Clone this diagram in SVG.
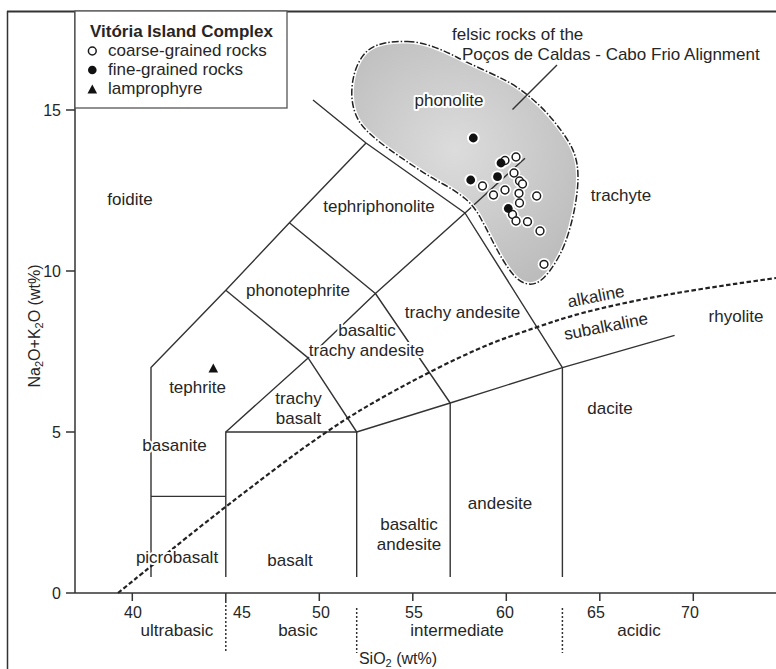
<svg xmlns="http://www.w3.org/2000/svg" width="776" height="669" viewBox="0 0 776 669">
<defs>
<radialGradient id="blobGrad" cx="455" cy="150" r="150" gradientUnits="userSpaceOnUse">
<stop offset="0" stop-color="#dcdcdc"/>
<stop offset="1" stop-color="#bcbcbc"/>
</radialGradient>
<style>
.ln{fill:none;stroke:#333;stroke-width:1.4;stroke-linejoin:round;stroke-linecap:butt}
.ax{fill:none;stroke:#333;stroke-width:1.5}
.lb{font-family:"Liberation Sans",Arial,Helvetica,sans-serif;font-size:17px;fill:#262626;text-anchor:middle;paint-order:stroke;stroke:#fff;stroke-width:4px;stroke-linejoin:round}
.tk{font-family:"Liberation Sans",Arial,Helvetica,sans-serif;font-size:16px;fill:#262626;text-anchor:middle}
.lg{font-family:"Liberation Sans",Arial,Helvetica,sans-serif;font-size:17px;fill:#262626}
.op{fill:#fff;stroke:#1a1a1a;stroke-width:1.5}
.fl{fill:#111}
.halo{fill:#fff}
.sep{stroke:#333;stroke-width:1.5;stroke-dasharray:2 2;fill:none}
</style>
</defs>
<rect x="0" y="0" width="776" height="669" fill="#fff"/>

<g id="frame">
<line class="ax" x1="7.5" y1="11" x2="7.5" y2="669"/>
<line x1="7" y1="11.5" x2="776" y2="11.5" stroke="#333" stroke-width="2.2"/>
<line class="ax" x1="75" y1="11" x2="75" y2="593"/>
<line class="ax" x1="75" y1="593" x2="776" y2="593"/>
</g>

<g id="y-axis">
<g class="ax">
<line x1="66" y1="593" x2="75" y2="593"/>
<line x1="66" y1="432" x2="75" y2="432"/>
<line x1="66" y1="271" x2="75" y2="271"/>
<line x1="66" y1="110" x2="75" y2="110"/>
</g>
<g class="tk" style="text-anchor:end">
<text x="61" y="598.5">0</text>
<text x="61" y="437.5">5</text>
<text x="61" y="276.5">10</text>
<text x="61" y="115.5">15</text>
</g>
<text class="tk" transform="translate(40,326) rotate(-90)">Na<tspan font-size="11" dy="3">2</tspan><tspan dy="-3">O+K</tspan><tspan font-size="11" dy="3">2</tspan><tspan dy="-3">O (wt%)</tspan></text>
</g>

<g id="x-axis">
<g class="ax">
<line x1="132.3" y1="593" x2="132.3" y2="601"/>
<line x1="225.8" y1="593" x2="225.8" y2="601"/>
<line x1="319.3" y1="593" x2="319.3" y2="601"/>
<line x1="412.8" y1="593" x2="412.8" y2="601"/>
<line x1="506.3" y1="593" x2="506.3" y2="601"/>
<line x1="599.8" y1="593" x2="599.8" y2="601"/>
<line x1="693.3" y1="593" x2="693.3" y2="601"/>
</g>
<g class="tk">
<text x="133" y="618">40</text>
<text x="242" y="618">45</text>
<text x="321" y="618">50</text>
<text x="414" y="618">55</text>
<text x="505" y="618">60</text>
<text x="596" y="618">65</text>
<text x="690" y="618">70</text>
</g>
<line class="sep" x1="225.8" y1="601" x2="225.8" y2="653"/>
<line class="sep" x1="356.7" y1="608" x2="356.7" y2="653"/>
<line class="sep" x1="562.4" y1="608" x2="562.4" y2="653"/>
<g class="tk" style="font-size:17px">
<text x="177" y="636">ultrabasic</text>
<text x="298" y="636">basic</text>
<text x="457" y="636">intermediate</text>
<text x="639" y="636">acidic</text>
</g>
<text class="tk" x="398" y="664">SiO<tspan font-size="11" dy="3">2</tspan><tspan dy="-3"> (wt%)</tspan></text>
</g>

<path id="felsic-field" d="M407.5,41.5 Q420,42 432.5,46.5 Q445,51 456.5,57 Q468,63 481.5,69 Q495,75 506.5,81 Q518,87 530.5,97.5 Q543,108 552.5,119.5 Q562,131 568.5,141.5 Q575,152 577,164 Q579,176 577,193 Q575,210 570,228 Q565,246 557.5,259 Q550,272 543,278.5 Q536,285 528.5,284 Q521,283 515,276.5 Q509,270 503,260 Q497,250 491.5,239 Q486,228 480,217 Q474,206 465,198.5 Q456,191 443,184 Q430,177 415,167 Q400,157 387.5,148 Q375,139 366.5,130.5 Q358,122 354.5,111 Q351,100 352,87.5 Q353,75 357.5,65 Q362,55 368.5,50 Q375,45 385,43 Q395,41 407.5,41.5 Z" fill="url(#blobGrad)"/>

<g id="connectors">
<polyline class="ln" points="151,577 151,367.6 225.8,290.3 289.4,222.7 366,143"/>
<line class="ln" x1="151" y1="496.4" x2="225.8" y2="496.4"/>
<polyline class="ln" points="225.8,577 225.8,432 356.7,432 356.7,577"/>
<polyline class="ln" points="225.8,432 308.1,357.9 356.7,432"/>
<line class="ln" x1="225.8" y1="290.3" x2="308.1" y2="357.9"/>
<polyline class="ln" points="289.4,222.7 375.4,293.5 450.2,403"/>
<polyline class="ln" points="308.1,357.9 375.4,293.5 465,213 525,158.3"/>
<polyline class="ln" points="313,100 366,143 465,213 562.4,367.6"/>
<polyline class="ln" points="356.7,432 450.2,403 562.4,367.6 674.6,335.4"/>
<line class="ln" x1="450.2" y1="403" x2="450.2" y2="577"/>
<line class="ln" x1="562.4" y1="367.6" x2="562.4" y2="577"/>
<path id="alkaline-divide" d="M118,593 L134,580 Q150,567 188,536.5 Q226,506 276.5,468 Q327,430 362.5,409 Q398,388 439,367.5 Q480,347 508.5,337 Q537,327 558.5,320 Q580,313 613.5,305.5 Q647,298 680,292.5 Q713,287 744.5,282.5 L776,278" fill="none" stroke="#222" stroke-width="2.2" stroke-dasharray="4.5 2.5"/>
<path d="M407.5,41.5 Q420,42 432.5,46.5 Q445,51 456.5,57 Q468,63 481.5,69 Q495,75 506.5,81 Q518,87 530.5,97.5 Q543,108 552.5,119.5 Q562,131 568.5,141.5 Q575,152 577,164 Q579,176 577,193 Q575,210 570,228 Q565,246 557.5,259 Q550,272 543,278.5 Q536,285 528.5,284 Q521,283 515,276.5 Q509,270 503,260 Q497,250 491.5,239 Q486,228 480,217 Q474,206 465,198.5 Q456,191 443,184 Q430,177 415,167 Q400,157 387.5,148 Q375,139 366.5,130.5 Q358,122 354.5,111 Q351,100 352,87.5 Q353,75 357.5,65 Q362,55 368.5,50 Q375,45 385,43 Q395,41 407.5,41.5 Z" fill="none" stroke="#fff" stroke-width="4"/>
<path d="M407.5,41.5 Q420,42 432.5,46.5 Q445,51 456.5,57 Q468,63 481.5,69 Q495,75 506.5,81 Q518,87 530.5,97.5 Q543,108 552.5,119.5 Q562,131 568.5,141.5 Q575,152 577,164 Q579,176 577,193 Q575,210 570,228 Q565,246 557.5,259 Q550,272 543,278.5 Q536,285 528.5,284 Q521,283 515,276.5 Q509,270 503,260 Q497,250 491.5,239 Q486,228 480,217 Q474,206 465,198.5 Q456,191 443,184 Q430,177 415,167 Q400,157 387.5,148 Q375,139 366.5,130.5 Q358,122 354.5,111 Q351,100 352,87.5 Q353,75 357.5,65 Q362,55 368.5,50 Q375,45 385,43 Q395,41 407.5,41.5 Z" fill="none" stroke="#222" stroke-width="1.5" stroke-dasharray="7 2 1.5 2"/>
<line class="ln" x1="557" y1="65" x2="512.5" y2="109.5"/>
</g>

<g id="samples">
<g class="halo">
<circle cx="473.3" cy="138" r="6.3"/><circle cx="501" cy="163" r="6.3"/><circle cx="470.7" cy="180" r="6.3"/><circle cx="497.5" cy="176.7" r="6.3"/><circle cx="508.3" cy="208.5" r="6.3"/>
<circle cx="516" cy="157" r="6.3"/><circle cx="505" cy="160.5" r="6.3"/><circle cx="514" cy="173" r="6.3"/><circle cx="519.5" cy="181" r="6.3"/><circle cx="522.5" cy="184" r="6.3"/><circle cx="482.5" cy="186" r="6.3"/><circle cx="505" cy="190" r="6.3"/><circle cx="493.5" cy="195" r="6.3"/><circle cx="519" cy="193.3" r="6.3"/><circle cx="536.7" cy="196" r="6.3"/><circle cx="519.5" cy="203" r="6.3"/><circle cx="512.5" cy="214.5" r="6.3"/><circle cx="516" cy="221" r="6.3"/><circle cx="527.5" cy="221.7" r="6.3"/><circle cx="540" cy="231" r="6.3"/><circle cx="544" cy="264.3" r="6.3"/>
</g>
<g class="op">
<circle cx="516" cy="157" r="3.9"/><circle cx="505" cy="160.5" r="3.9"/><circle cx="514" cy="173" r="3.9"/><circle cx="519.5" cy="181" r="3.9"/><circle cx="522.5" cy="184" r="3.9"/><circle cx="482.5" cy="186" r="3.9"/><circle cx="505" cy="190" r="3.9"/><circle cx="493.5" cy="195" r="3.9"/><circle cx="519" cy="193.3" r="3.9"/><circle cx="536.7" cy="196" r="3.9"/><circle cx="519.5" cy="203" r="3.9"/><circle cx="512.5" cy="214.5" r="3.9"/><circle cx="516" cy="221" r="3.9"/><circle cx="527.5" cy="221.7" r="3.9"/><circle cx="540" cy="231" r="3.9"/><circle cx="544" cy="264.3" r="3.9"/>
</g>
<g class="fl">
<circle cx="473.3" cy="138" r="4.4"/><circle cx="501" cy="163" r="4.4"/><circle cx="470.7" cy="180" r="4.4"/><circle cx="497.5" cy="176.7" r="4.4"/><circle cx="508.3" cy="208.5" r="4.4"/>
</g>
<polygon class="fl" points="213.3,363.5 208.5,372.5 218.1,372.5"/>
</g>

<g id="field-labels" class="lb">
<text x="130" y="205">foidite</text>
<text x="379" y="212">tephriphonolite</text>
<text x="298" y="296">phonotephrite</text>
<text x="449" y="106">phonolite</text>
<text x="621" y="201">trachyte</text>
<text x="197.5" y="393">tephrite</text>
<text x="367" y="336">basaltic</text>
<text x="366.5" y="356">trachy andesite</text>
<text x="462.5" y="318">trachy andesite</text>
<text x="298.5" y="404">trachy</text>
<text x="298.5" y="424">basalt</text>
<text x="174.5" y="451">basanite</text>
<text x="177" y="563">picrobasalt</text>
<text x="290" y="566">basalt</text>
<text x="409" y="530">basaltic</text>
<text x="409" y="550">andesite</text>
<text x="500" y="509">andesite</text>
<text x="610" y="414">dacite</text>
<text x="736" y="322">rhyolite</text>
<text transform="translate(596,297) rotate(-11)" y="5">alkaline</text>
<text transform="translate(606,327) rotate(-11)" y="5">subalkaline</text>
<text x="452" y="40" style="text-anchor:start">felsic rocks of the</text>
<text x="462" y="60" style="text-anchor:start">Poços de Caldas - Cabo Frio Alignment</text>
</g>

<g id="legend">
<rect x="75" y="11" width="212" height="97" fill="#fff" stroke="#555" stroke-width="1.3"/>
<text class="lg" x="90" y="37" font-weight="bold">Vitória Island Complex</text>
<circle class="op" cx="92.3" cy="51" r="3.9"/>
<text class="lg" x="108" y="56">coarse-grained rocks</text>
<circle class="fl" cx="92.3" cy="70" r="4.3"/>
<text class="lg" x="108" y="75">fine-grained rocks</text>
<polygon class="fl" points="92.3,84.5 87.5,93.5 97.1,93.5"/>
<text class="lg" x="108" y="94">lamprophyre</text>
</g>
</svg>
